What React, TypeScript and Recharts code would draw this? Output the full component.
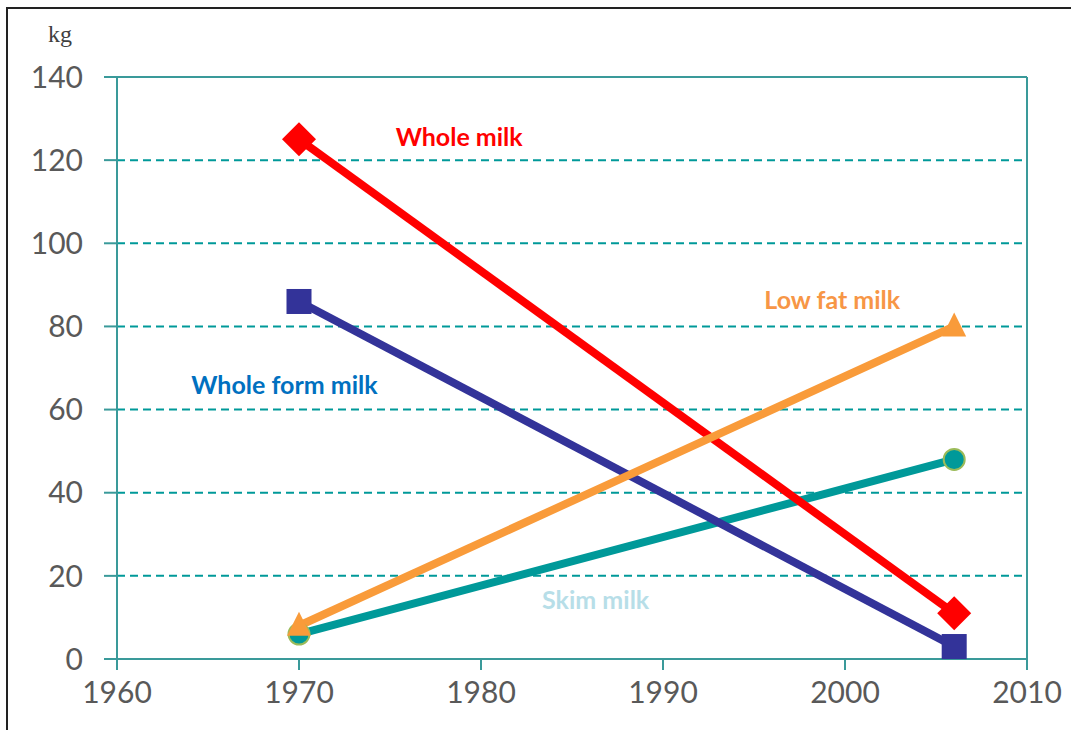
import React from 'react';
import {
  LineChart,
  Line,
  XAxis,
  YAxis,
  CartesianGrid,
  ReferenceLine,
  ReferenceDot,
} from 'recharts';

const years = [1970, 2006];
const wholeMilk = [125, 11];
const wholeFormMilk = [86, 3];
const lowFatMilk = [8, 80];
const skimMilk = [6, 48];

const xTicks = [1960, 1970, 1980, 1990, 2000, 2010];
const yTicks = [0, 20, 40, 60, 80, 100, 120, 140];

// series name tags, anchored in data coordinates
const tagText = ['Whole milk', 'Low fat milk', 'Whole form milk', 'Skim milk'];
const tagYear = [1978.8, 1999.3, 1969.2, 1986.3];
const tagValue = [125.8, 86.6, 66.2, 14.4];
const tagColor = ['#FF0000', '#F79646', '#0070C0', '#B7DEE8'];

const data = years.map((year, i) => ({
  year,
  whole: wholeMilk[i],
  wholeForm: wholeFormMilk[i],
  lowFat: lowFatMilk[i],
  skim: skimMilk[i],
}));

const TEAL = '#009999';
const AXIS = '#3A9A9A';
const FONT = 'Lato, "Open Sans", sans-serif';

const Diamond = (p: any) => {
  const { cx, cy } = p;
  const r = 17;
  return (
    <polygon
      key={`d-${p.index}`}
      points={`${cx},${cy - r} ${cx + r},${cy} ${cx},${cy + r} ${cx - r},${cy}`}
      fill="#FF0000"
    />
  );
};

const Square = (p: any) => {
  const { cx, cy } = p;
  const s = 25;
  return <rect key={`s-${p.index}`} x={cx - s / 2} y={cy - s / 2} width={s} height={s} fill="#333399" />;
};

const Triangle = (p: any) => {
  const { cx, cy } = p;
  const w = 24;
  return (
    <polygon
      key={`t-${p.index}`}
      points={`${cx},${cy - 14} ${cx + w / 2},${cy + 10} ${cx - w / 2},${cy + 10}`}
      fill="#F99B3A"
    />
  );
};

const Circle = (p: any) => {
  const { cx, cy } = p;
  return <circle key={`c-${p.index}`} cx={cx} cy={cy} r={10.5} fill={TEAL} stroke="#9BBB59" strokeWidth={2} />;
};

export default function App() {
  return (
    <div style={{ position: 'absolute', left: 0, top: 0, width: 1071, height: 730, background: '#fff' }}>
      <div
        style={{
          position: 'absolute',
          left: 6,
          top: 7,
          width: 1065,
          height: 723,
          borderTop: '2px solid #222',
          borderLeft: '2px solid #222',
        }}
      />
      <div
        style={{
          position: 'absolute',
          left: 48,
          top: 21,
          fontFamily: '"Liberation Serif", serif',
          fontSize: 24,
          color: '#404040',
        }}
      >
        kg
      </div>
      <div style={{ position: 'absolute', left: 0, top: 0 }}>
        <LineChart width={1071} height={730} data={data} margin={{ top: 77, right: 44, bottom: 0, left: 0 }}>
          <CartesianGrid horizontal vertical={false} stroke={TEAL} strokeWidth={2} strokeDasharray="8 5" />
          <XAxis
            dataKey="year"
            type="number"
            domain={[1960, 2010]}
            ticks={xTicks}
            height={71}
            tickSize={11}
            tickMargin={12}
            stroke={AXIS}
            strokeWidth={2}
            tick={{ fill: '#595959', fontSize: 30, fontFamily: FONT }}
            interval={0}
          />
          <YAxis
            type="number"
            domain={[0, 140]}
            ticks={yTicks}
            width={117}
            tickSize={13}
            tickMargin={21}
            stroke={AXIS}
            strokeWidth={2}
            tick={{ fill: '#595959', fontSize: 30, fontFamily: FONT }}
            interval={0}
          />
          <ReferenceLine y={140} stroke={AXIS} strokeWidth={2} />
          <ReferenceLine x={2010} stroke={AXIS} strokeWidth={2} />
          <Line dataKey="skim" stroke={TEAL} strokeWidth={8} dot={Circle} isAnimationActive={false} />
          <Line dataKey="wholeForm" stroke="#333399" strokeWidth={8} dot={Square} isAnimationActive={false} />
          <Line dataKey="whole" stroke="#FF0000" strokeWidth={8} dot={Diamond} isAnimationActive={false} />
          <Line dataKey="lowFat" stroke="#F99B3A" strokeWidth={8} dot={Triangle} isAnimationActive={false} />
          {tagText.map((t, i) => (
            <ReferenceDot
              key={t}
              x={tagYear[i]}
              y={tagValue[i]}
              r={0}
              shape={(p: any) => (
                <text
                  x={p.cx}
                  y={p.cy}
                  textAnchor="middle"
                  dominantBaseline="central"
                  fill={tagColor[i]}
                  fontFamily={FONT}
                  fontWeight="bold"
                  fontSize={25}
                >
                  {t}
                </text>
              )}
            />
          ))}
        </LineChart>
      </div>
    </div>
  );
}
